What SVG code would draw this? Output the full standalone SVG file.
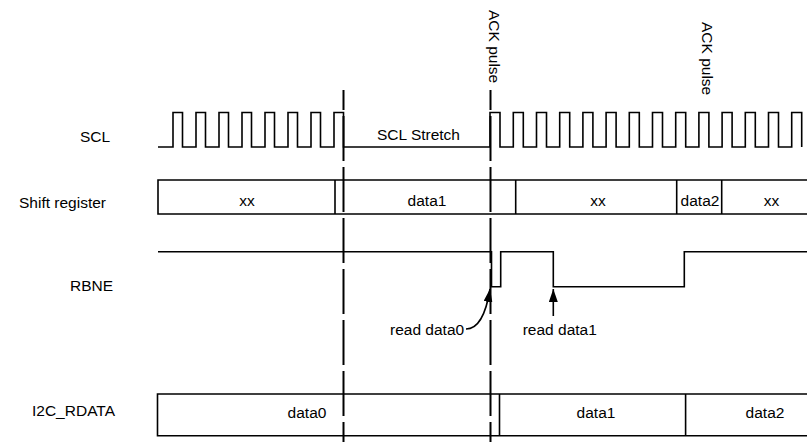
<svg xmlns="http://www.w3.org/2000/svg" width="807" height="442" viewBox="0 0 807 442">
<style>
text{font-family:"Liberation Sans",Arial,sans-serif;font-size:15.5px;fill:#000}
.sig{fill:none;stroke:#000;stroke-width:1.6}
.mid{text-anchor:middle}
.dash{stroke:#000;stroke-width:2;stroke-dasharray:45 6;stroke-dashoffset:25;fill:none}
.arr{fill:none;stroke:#000;stroke-width:1.6}
</style>
<defs>
<marker id="ah" viewBox="0 0 13 9" refX="13" refY="4.5" markerWidth="13" markerHeight="9" markerUnits="userSpaceOnUse" orient="auto">
<path d="M0,0 L13,4.5 L0,9 z" fill="#000"/>
</marker>
</defs>
<rect width="807" height="442" fill="#fff"/>
<g id="scl">
<text x="80" y="142">SCL</text>
<path class="sig" d="M158,147 H173 V112.5 H182.5 V147 H196 V112.5 H205.5 V147 H219 V112.5 H228.5 V147 H242 V112.5 H251.5 V147 H265 V112.5 H274.5 V147 H288 V112.5 H297.5 V147 H311 V112.5 H320.5 V147 H334 V112.5 H343.5 V147 H490 V112.5 H500 V147 H513.3 V112.5 H523.3 V147 H536.5 V112.5 H546.5 V147 H559.7 V112.5 H569.7 V147 H582.9 V112.5 H592.9 V147 H606.1 V112.5 H616.1 V147 H629.3 V112.5 H639.3 V147 H652.5 V112.5 H662.5 V147 H675.7 V112.5 H685.7 V147 H698.9 V112.5 H708.9 V147 H722.1 V112.5 H732.1 V147 H745.3 V112.5 H755.3 V147 H768.5 V112.5 H778.5 V147 H791.7 V112.5 H801.7 V147"/>
<text x="377" y="140">SCL Stretch</text>
</g>
<g id="ack1">
<text transform="translate(489,10) rotate(90)">ACK pulse</text>
</g>
<g id="ack2">
<text transform="translate(701.5,22) rotate(90)">ACK pulse</text>
</g>
<g id="shift-register">
<text x="19" y="208">Shift register</text>
<path class="sig" d="M810,180 H158 V214 H810 M335,180 V214 M515.7,180 V214 M676.7,180 V214 M721.7,180 V214"/>
<text class="mid" x="247" y="205.5">xx</text>
<text class="mid" x="427" y="205.5">data1</text>
<text class="mid" x="598" y="205.5">xx</text>
<text class="mid" x="700" y="205.5">data2</text>
<text class="mid" x="771.5" y="205.5">xx</text>
</g>
<g id="rbne">
<text x="70" y="291">RBNE</text>
<path class="sig" d="M158,251.7 H491.5 V286.7 H500.7 V251.7 H553.3 V286.7 H684.3 V251.7 H807"/>
</g>
<g id="read0">
<text x="390" y="335">read data0</text>
</g>
<g id="read1">
<text x="522.7" y="335">read data1</text>
</g>
<g id="i2c-rdata">
<text x="32" y="416">I2C_RDATA</text>
<path class="sig" d="M810,394 H157.5 V435.7 H810 M499.5,394 V435.7 M685.6,394 V435.7"/>
<text class="mid" x="307" y="418">data0</text>
<text class="mid" x="596" y="418">data1</text>
<text class="mid" x="765" y="418">data2</text>
</g>
<g id="connectors">
<line class="dash" x1="343.5" y1="90" x2="343.5" y2="442"/>
<line class="dash" x1="490.5" y1="90" x2="490.5" y2="442"/>
<path class="arr" d="M466,329 C478,329 486,314 490,289" marker-end="url(#ah)"/>
<path class="arr" d="M553.3,316 V289" marker-end="url(#ah)"/>
</g>
</svg>
